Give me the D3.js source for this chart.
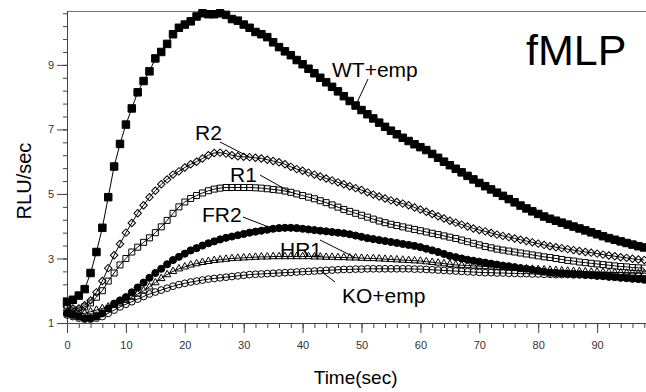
<!DOCTYPE html>
<html>
<head>
<meta charset="utf-8">
<script src="https://cdn.jsdelivr.net/npm/d3@7"></script>
<style>
  html, body { margin: 0; padding: 0; background: #fff; }
  svg { display: block; font-family: Arial, "Liberation Sans", sans-serif; }
</style>
</head>
<body>
<div id="chart"></div>
<script>
// sample times (sec)
const time = [
  0, 1, 2, 3, 4, 5, 6, 7, 8, 9, 10, 11, 12, 13, 14, 15, 16, 17, 18, 19,
  20, 21, 22, 23, 24, 25, 26, 27, 28, 29, 30, 31, 32, 33, 34, 35, 36, 37, 38, 39,
  40, 41, 42, 43, 44, 45, 46, 47, 48, 49, 50, 51, 52, 53, 54, 55, 56, 57, 58, 59,
  60, 61, 62, 63, 64, 65, 66, 67, 68, 69, 70, 71, 72, 73, 74, 75, 76, 77, 78, 79,
  80, 81, 82, 83, 84, 85, 86, 87, 88, 89, 90, 91, 92, 93, 94, 95, 96, 97, 98
];

const wtEmp = [
  1.65, 1.72, 1.85, 2.05, 2.55, 3.2, 3.95, 4.9, 5.85, 6.55, 7.15, 7.65, 8.15, 8.5, 8.8, 9.2, 9.4, 9.65, 9.95, 10.15,
  10.25, 10.35, 10.5, 10.6, 10.57, 10.57, 10.6, 10.55, 10.42, 10.37, 10.25, 10.15, 10.02, 9.95, 9.86, 9.7, 9.55, 9.42, 9.3, 9.15,
  9.02, 8.88, 8.74, 8.6, 8.46, 8.32, 8.18, 8.03, 7.88, 7.74, 7.6, 7.47, 7.34, 7.21, 7.08, 6.96, 6.85, 6.74, 6.64, 6.54,
  6.45, 6.36, 6.24, 6.12, 6.0, 5.89, 5.78, 5.67, 5.56, 5.45, 5.34, 5.24, 5.14, 5.04, 4.94, 4.84, 4.74, 4.64, 4.55, 4.46,
  4.38, 4.3, 4.23, 4.17, 4.11, 4.05, 3.99, 3.93, 3.87, 3.81, 3.75, 3.69, 3.63, 3.58, 3.53, 3.48, 3.43, 3.38, 3.34
];

const r2 = [
  1.5, 1.45, 1.45, 1.55, 1.7, 1.95, 2.3, 2.7, 3.1, 3.45, 3.8, 4.1, 4.4, 4.65, 4.9, 5.1, 5.3, 5.45, 5.6, 5.7,
  5.82, 5.92, 6.0, 6.1, 6.2, 6.27, 6.28, 6.25, 6.2, 6.17, 6.15, 6.14, 6.12, 6.1, 6.06, 6.02, 5.98, 5.92, 5.84, 5.77,
  5.72, 5.66, 5.6, 5.54, 5.48, 5.42, 5.36, 5.3, 5.24, 5.18, 5.12, 5.05, 4.98, 4.92, 4.86, 4.8, 4.75, 4.7, 4.65, 4.58,
  4.52, 4.45, 4.38, 4.31, 4.24, 4.17, 4.11, 4.05, 3.99, 3.93, 3.88, 3.84, 3.79, 3.74, 3.7, 3.66, 3.62, 3.58, 3.54, 3.5,
  3.46, 3.42, 3.38, 3.35, 3.32, 3.29, 3.26, 3.23, 3.2, 3.18, 3.15, 3.12, 3.09, 3.07, 3.04, 3.02, 2.99, 2.97, 2.95
];

const r1 = [
  1.45, 1.4, 1.4, 1.5, 1.62, 1.8, 2.0, 2.3, 2.55, 2.8, 3.0, 3.2, 3.35, 3.5, 3.64, 3.8, 3.98, 4.18, 4.4, 4.6,
  4.75, 4.86, 4.95, 5.03, 5.1, 5.15, 5.18, 5.2, 5.2, 5.2, 5.2, 5.2, 5.19, 5.18, 5.16, 5.14, 5.12, 5.09, 5.05, 5.0,
  4.95, 4.9, 4.85, 4.79, 4.73, 4.66, 4.59, 4.52, 4.46, 4.4, 4.34, 4.28, 4.22, 4.16, 4.11, 4.06, 4.02, 3.98, 3.94, 3.9,
  3.86, 3.82, 3.78, 3.74, 3.7, 3.66, 3.62, 3.57, 3.52, 3.47, 3.42, 3.37, 3.33, 3.29, 3.26, 3.23, 3.2, 3.17, 3.14, 3.11,
  3.08, 3.05, 3.03, 3.0, 2.97, 2.94, 2.92, 2.89, 2.87, 2.85, 2.83, 2.81, 2.79, 2.77, 2.75, 2.74, 2.72, 2.71, 2.7
];

const fr2 = [
  1.3, 1.25, 1.2, 1.15, 1.15, 1.2, 1.3, 1.45, 1.6, 1.7, 1.8, 1.95, 2.1, 2.25, 2.4, 2.55, 2.68, 2.82, 2.95, 3.05,
  3.15, 3.25, 3.32, 3.4, 3.47, 3.53, 3.59, 3.64, 3.68, 3.72, 3.76, 3.8, 3.83, 3.86, 3.89, 3.92, 3.94, 3.95, 3.95, 3.94,
  3.92, 3.9, 3.88, 3.86, 3.84, 3.82, 3.8, 3.78, 3.75, 3.71, 3.67, 3.63, 3.6, 3.57, 3.54, 3.51, 3.48, 3.45, 3.42, 3.39,
  3.35, 3.3, 3.25, 3.2, 3.14, 3.08, 3.04, 3.0, 2.96, 2.93, 2.9, 2.87, 2.84, 2.81, 2.78, 2.76, 2.73, 2.7, 2.68, 2.65,
  2.62, 2.59, 2.56, 2.55, 2.54, 2.53, 2.52, 2.51, 2.49, 2.48, 2.46, 2.45, 2.43, 2.42, 2.4, 2.39, 2.37, 2.36, 2.34
];

const hr1 = [
  1.35, 1.3, 1.28, 1.3, 1.35, 1.4, 1.45, 1.5, 1.55, 1.62, 1.7, 1.8, 1.9, 2.0, 2.12, 2.25, 2.38, 2.5, 2.6, 2.68,
  2.74, 2.8, 2.84, 2.88, 2.91, 2.94, 2.96, 2.98, 3.0, 3.01, 3.02, 3.03, 3.04, 3.05, 3.05, 3.06, 3.06, 3.06, 3.06, 3.06,
  3.06, 3.06, 3.05, 3.05, 3.04, 3.04, 3.03, 3.03, 3.02, 3.02, 3.01, 3.0, 3.0, 2.99, 2.98, 2.97, 2.96, 2.95, 2.94, 2.93,
  2.92, 2.9, 2.88, 2.86, 2.84, 2.82, 2.8, 2.79, 2.78, 2.77, 2.76, 2.75, 2.74, 2.73, 2.72, 2.71, 2.7, 2.69, 2.68, 2.67,
  2.66, 2.65, 2.64, 2.63, 2.62, 2.61, 2.6, 2.6, 2.59, 2.58, 2.58, 2.57, 2.57, 2.56, 2.56, 2.55, 2.55, 2.54, 2.54
];

const koEmp = [
  1.25, 1.2, 1.15, 1.12, 1.12, 1.15, 1.2, 1.3, 1.4, 1.5, 1.58, 1.66, 1.74, 1.82, 1.9, 1.96, 2.02, 2.08, 2.14, 2.19,
  2.23, 2.27, 2.3, 2.33, 2.36, 2.38, 2.4, 2.42, 2.44, 2.46, 2.48, 2.5, 2.51, 2.52, 2.53, 2.54, 2.55, 2.56, 2.57, 2.58,
  2.59, 2.6, 2.61, 2.62, 2.63, 2.64, 2.65, 2.66, 2.66, 2.67, 2.67, 2.68, 2.68, 2.68, 2.68, 2.68, 2.68, 2.68, 2.68, 2.67,
  2.67, 2.66, 2.65, 2.64, 2.63, 2.62, 2.61, 2.6, 2.59, 2.58, 2.57, 2.56, 2.56, 2.55, 2.55, 2.54, 2.54, 2.53, 2.53, 2.52,
  2.52, 2.51, 2.51, 2.5, 2.5, 2.5, 2.49, 2.49, 2.49, 2.48, 2.48, 2.48, 2.47, 2.47, 2.47, 2.46, 2.46, 2.46, 2.45
];

const xMajorTicks = [0, 10, 20, 30, 40, 50, 60, 70, 80, 90];
const yMajorTicks = [1, 3, 5, 7, 9];

// label text, anchor point (t, v) on the curve, and text position
const labels = [
  { text: 'WT+emp', tx: 332, ty: 77, lx1: 368, ly1: 79, t: 49, v: 7.74 },
  { text: 'R2', tx: 195, ty: 140, lx1: 220, ly1: 142, t: 31, v: 6.14 },
  { text: 'R1', tx: 230, ty: 182, lx1: 260, ly1: 175, t: 38, v: 5.05 },
  { text: 'FR2', tx: 202, ty: 222, lx1: 243, ly1: 217, t: 35, v: 3.92 },
  { text: 'HR1', tx: 280, ty: 257, lx1: 320, ly1: 240, t: 49, v: 3.02 },
  { text: 'KO+emp', tx: 342, ty: 303, lx1: 335, ly1: 282, t: 43, v: 2.62 }
];

const width = 646;
const height = 392;
const margin = { top: 11, right: 0, bottom: 69, left: 67 };

const svg = d3
  .select('#chart')
  .append('svg')
  .attr('width', width)
  .attr('height', height);

const x = d3
  .scaleLinear()
  .domain([0, 98.3])
  .range([margin.left, width - margin.right]);

const y = d3
  .scaleLinear()
  .domain([1, 10.67])
  .range([height - margin.bottom, margin.top]);

const axisColor = '#444';

// top frame line
svg
  .append('line')
  .attr('x1', margin.left)
  .attr('x2', width)
  .attr('y1', margin.top + 0.5)
  .attr('y2', margin.top + 0.5)
  .attr('stroke', '#777')
  .attr('stroke-width', 1);

// x axis: minor ticks every 2 s, major every 10 s
const xMinor = [];
for (let t = 0; t <= 98; t += 2) xMinor.push(t);

const xAxisG = svg
  .append('g')
  .attr('transform', `translate(0, ${y(1)})`);

xAxisG
  .call(d3.axisBottom(x).tickValues(xMinor).tickSize(5).tickFormat(''))
  .call((g) => g.select('.domain').remove());

svg
  .append('g')
  .attr('transform', `translate(0, ${y(1)})`)
  .call(d3.axisBottom(x).tickValues(xMajorTicks).tickSize(10).tickPadding(8).tickFormat(d3.format('d')))
  .call((g) => g.select('.domain').attr('d', `M${margin.left - 9},0.5H${width}`))
  .call((g) => g.selectAll('text').style('font-size', '11px').attr('fill', '#333').style('font-family', 'Arial, "Liberation Sans", sans-serif'));

// y axis: minor ticks every 0.4, major at 1,3,5,7,9
const yMinor = [];
for (let i = 0; i <= 24; i++) yMinor.push(+(1 + i * 0.4).toFixed(1));

svg
  .append('g')
  .attr('transform', `translate(${margin.left}, 0)`)
  .call(d3.axisLeft(y).tickValues(yMinor).tickSize(4).tickFormat(''))
  .call((g) => g.select('.domain').remove());

svg
  .append('g')
  .attr('transform', `translate(${margin.left}, 0)`)
  .call(d3.axisLeft(y).tickValues(yMajorTicks).tickSize(10).tickPadding(3).tickFormat(d3.format('d')))
  .call((g) => g.select('.domain').attr('d', `M0.5,${y(1)}V${margin.top}`))
  .call((g) => g.selectAll('text').style('font-size', '11px').attr('fill', '#333').style('font-family', 'Arial, "Liberation Sans", sans-serif'));

svg.selectAll('.tick line').attr('stroke', axisColor);
svg.selectAll('.domain').attr('stroke', axisColor);

// axis titles
svg
  .append('text')
  .attr('x', x(49))
  .attr('y', 384)
  .attr('text-anchor', 'middle')
  .style('font-size', '19px')
  .text('Time(sec)');

svg
  .append('text')
  .attr('transform', `translate(31, ${y(5.4)}) rotate(-90)`)
  .attr('text-anchor', 'middle')
  .style('font-size', '20px')
  .text('RLU/sec');

// series
const series = [
  { name: 'KO+emp', values: koEmp, symbol: d3.symbolCircle, size: 36, fill: 'none', rotate: 0 },
  { name: 'HR1', values: hr1, symbol: d3.symbolTriangle, size: 24, fill: 'none', rotate: 0 },
  { name: 'FR2', values: fr2, symbol: d3.symbolCircle, size: 40, fill: '#000', rotate: 0 },
  { name: 'R1', values: r1, symbol: d3.symbolSquare, size: 36, fill: 'none', rotate: 0 },
  { name: 'R2', values: r2, symbol: d3.symbolSquare, size: 28, fill: 'none', rotate: 45 },
  { name: 'WT+emp', values: wtEmp, symbol: d3.symbolSquare, size: 56, fill: '#000', rotate: 0 }
];

const lineGenerator = d3
  .line()
  .x((d, i) => x(time[i]))
  .y((d) => y(d));

series.forEach((s) => {
  const g = svg.append('g');

  g.append('path')
    .datum(s.values)
    .attr('fill', 'none')
    .attr('stroke', '#000')
    .attr('stroke-width', 1)
    .attr('d', lineGenerator);

  g.selectAll('path.marker')
    .data(s.values)
    .join('path')
    .attr('class', 'marker')
    .attr('d', d3.symbol().type(s.symbol).size(s.size))
    .attr('transform', (d, i) => `translate(${x(time[i])}, ${y(d)}) rotate(${s.rotate})`)
    .attr('fill', s.fill)
    .attr('stroke', '#000')
    .attr('stroke-width', 1);
});

// curve labels with leader lines
svg
  .append('g')
  .selectAll('line')
  .data(labels)
  .join('line')
  .attr('x1', (d) => d.lx1)
  .attr('y1', (d) => d.ly1)
  .attr('x2', (d) => x(d.t))
  .attr('y2', (d) => y(d.v))
  .attr('stroke', '#000')
  .attr('stroke-width', 1);

svg
  .append('g')
  .selectAll('text')
  .data(labels)
  .join('text')
  .attr('x', (d) => d.tx)
  .attr('y', (d) => d.ty)
  .style('font-size', '21px')
  .text((d) => d.text);

svg
  .append('text')
  .attr('x', 526)
  .attr('y', 65)
  .style('font-size', '43px')
  .text('fMLP');
</script>
</body>
</html>
